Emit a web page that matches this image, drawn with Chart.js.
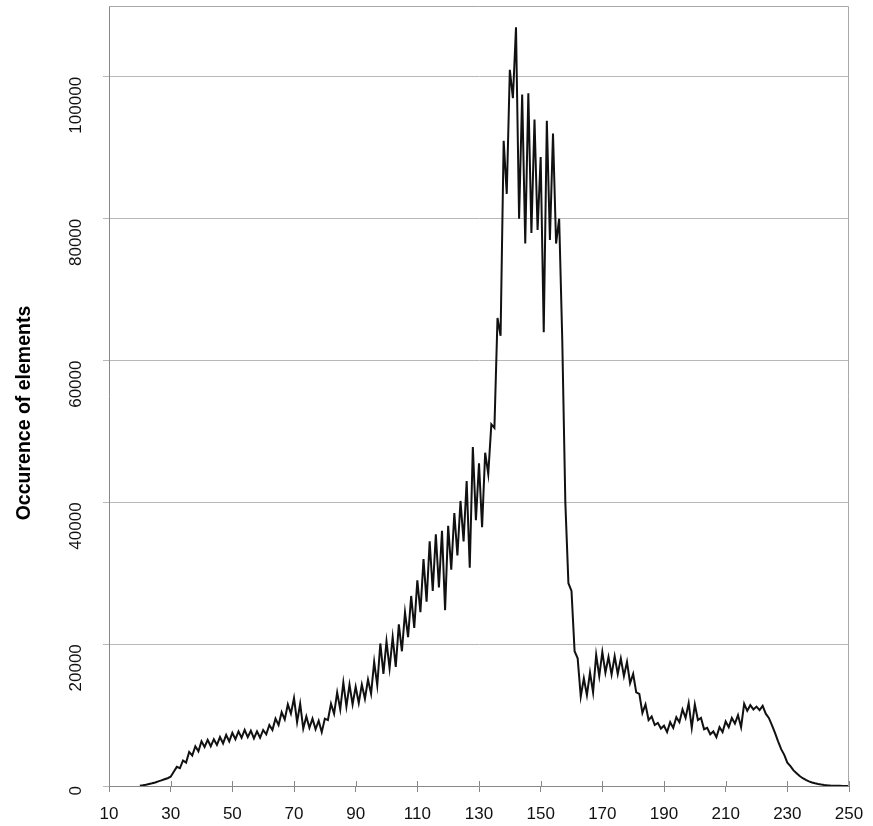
<!DOCTYPE html>
<html>
<head>
<meta charset="utf-8">
<script src="https://cdn.jsdelivr.net/npm/chart.js@4/dist/chart.umd.min.js"></script>
<style>
html,body{margin:0;padding:0;background:#fff;}
#wrap{width:873px;height:826px;}
</style>
</head>
<body>
<div id="wrap"><canvas id="c" width="873" height="826"></canvas></div>
<script>
// Grey level (x) from 10 to 250, one value per level
const firstLevel = 10;
const occurrences = [
  null,null,null,null,null,null,null,null,null,null, // 10-19
  50,100,180,280,380,500,650,800,950,1100,   // 20-29
  1300,2000,2700,2500,3600,3300,4800,4300,5600,4900, // 30-39
  6300,5500,6500,5600,6600,5800,6900,6000,7200,6300, // 40-49
  7500,6600,7700,6800,7900,6900,7800,6700,7700,6800, // 50-59
  7900,7300,8600,7900,9500,8600,10400,9400,11500,10200, // 60-69
  12400,9000,11600,8100,9800,8200,9500,8000,9200,7600, // 70-79
  9500,9300,11600,10200,13200,10800,14600,11200,14300,11500, // 80-89
  14000,11700,14300,12300,15000,13000,17500,14200,20100,15800, // 90-99
  20400,16600,21000,16800,22800,19000,24500,21000,26800,22300, // 100-109
  29000,24500,32000,26000,34500,27500,35500,28000,36000,24800, // 110-119
  36700,30500,38500,32500,40200,34500,43000,30800,47800,37500, // 120-129
  45500,36500,47000,44000,51000,50500,66000,63500,91000,83500, // 130-139
  101000,97000,107000,80000,97500,76500,97700,78000,94000,78400, // 140-149
  88700,64000,93800,77000,92000,76500,80000,63000,40000,28600, // 150-159
  27500,19000,18000,12600,15200,12800,16000,13200,18500,15500, // 160-169
  18900,16000,18200,15700,18300,15800,18000,15500,17500,14500, // 170-179
  15800,13200,13000,10300,11500,9300,9800,8600,8900,8100, // 180-189
  8500,7600,9000,8200,9700,9000,10800,9600,11700,8200, // 190-199
  11500,9300,9600,8000,8200,7300,7700,6900,8300,7600, // 200-209
  9100,8300,9600,8800,10000,8300,11600,10600,11400,10800, // 210-219
  11200,10700,11300,10200,9600,8600,7500,6300,5200,4400, // 220-229
  3300,2800,2200,1800,1400,1100,850,650,500,380, // 230-239
  280,200,140,100,70,50,30,20,10,5, // 240-249
  0 // 250
];
const levels = occurrences.map((_, i) => firstLevel + i);
const xTickValues = [10,30,50,70,90,110,130,150,170,190,210,230,250];
const yTickValues = [0,20000,40000,60000,80000,100000];
const yTitle = 'Occurence of elements';

const frame = {
  id: 'frame',
  afterDraw(chart) {
    const a = chart.chartArea, ctx = chart.ctx;
    ctx.save();
    // top and right border of plot area
    ctx.strokeStyle = '#a8a8a8';
    ctx.lineWidth = 1;
    ctx.beginPath();
    ctx.moveTo(a.left, a.top + 0.5);
    ctx.lineTo(a.right - 0.5, a.top + 0.5);
    ctx.lineTo(a.right - 0.5, a.bottom);
    ctx.stroke();
    // x tick marks crossing the axis (inside part)
    const xs = chart.scales.x;
    ctx.strokeStyle = '#888';
    ctx.beginPath();
    xs.ticks.forEach(t => {
      const px = Math.round(xs.getPixelForValue(t.value)) + 0.5;
      ctx.moveTo(px, a.bottom - 5);
      ctx.lineTo(px, a.bottom);
    });
    ctx.stroke();
    // y axis title
    ctx.translate(25, (a.top + a.bottom) / 2 + 17);
    ctx.rotate(-Math.PI / 2);
    ctx.fillStyle = '#000';
    ctx.font = 'bold 19.5px "Liberation Sans"';
    ctx.textAlign = 'center';
    ctx.textBaseline = 'middle';
    ctx.fillText(yTitle, 0, 0);
    ctx.restore();
  }
};

new Chart(document.getElementById('c'), {
  type: 'line',
  data: {
    labels: levels,
    datasets: [{
      data: occurrences,
      borderColor: '#111',
      borderWidth: 2,
      pointRadius: 0,
      tension: 0,
      fill: false,
      spanGaps: false
    }]
  },
  options: {
    responsive: false,
    animation: false,
    events: [],
    layout: { padding: { top: 6, right: 24, left: 8, bottom: 0 } },
    plugins: { legend: { display: false }, tooltip: { enabled: false } },
    scales: {
      x: {
        type: 'linear',
        min: 10, max: 250,
        afterBuildTicks: s => { s.ticks = xTickValues.map(v => ({ value: v })); },
        afterFit: s => { s.height = 40; s.paddingLeft = 0; s.paddingRight = 0; },
        grid: { display: true, drawOnChartArea: false, drawTicks: true, tickLength: 6, color: '#888' },
        border: { display: true, color: '#888', width: 1 },
        ticks: { color: '#111', font: { family: 'Liberation Sans', size: 17 }, padding: 12, maxRotation: 0, autoSkip: false }
      },
      y: {
        type: 'linear',
        min: 0, max: 110000,
        afterBuildTicks: s => { s.ticks = yTickValues.map(v => ({ value: v })); },
        afterFit: s => { s.width = 101; s.paddingTop = 0; s.paddingBottom = 0; },
        grid: { color: '#b8b8b8', lineWidth: 1, tickLength: 6, drawTicks: true },
        border: { display: true, color: '#888', width: 1 },
        ticks: { color: '#111', font: { family: 'Liberation Sans', size: 17 }, minRotation: 90, maxRotation: 90, padding: 27, callback: v => String(v) }
      }
    }
  },
  plugins: [frame]
});
</script>
</body>
</html>
